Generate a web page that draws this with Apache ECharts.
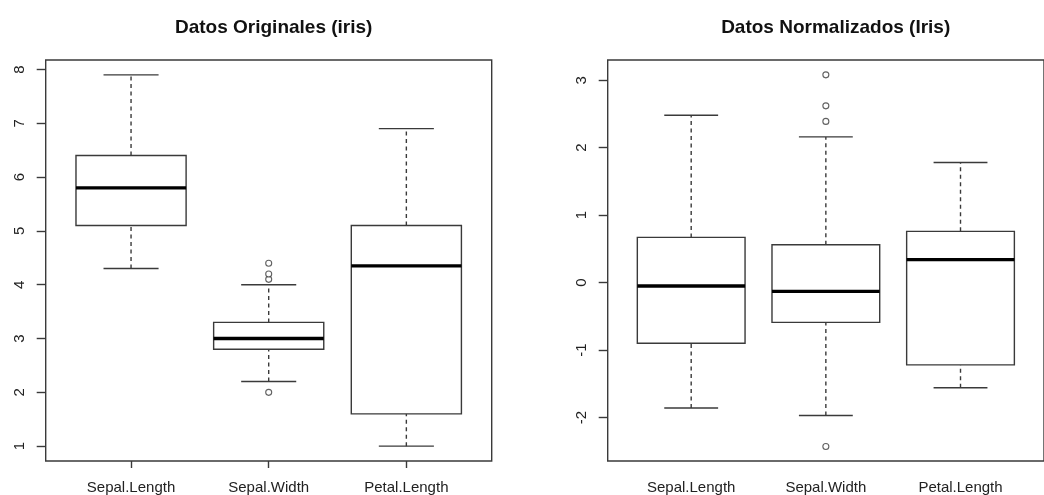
<!DOCTYPE html>
<html>
<head>
<meta charset="utf-8">
<script src="https://cdn.jsdelivr.net/npm/echarts@6/dist/echarts.min.js"></script>
<style>
  html, body { margin: 0; padding: 0; background: #fff; }
  #chart { width: 1044px; height: 495px; }
</style>
</head>
<body>
<div id="chart"></div>
<script>
// ---- data ----
const categories = ['Sepal.Length', 'Sepal.Width', 'Petal.Length'];
// [lower whisker, Q1, median, Q3, upper whisker]
const originalStats = [
  [4.3, 5.1, 5.8, 6.4, 7.9],
  [2.2, 2.8, 3.0, 3.3, 4.0],
  [1.0, 1.6, 4.35, 5.1, 6.9]
];
const originalOutliers = [[2, 4.4], [2, 4.1], [2, 4.2], [2, 2.0]];
const normalizedStats = [
  [-1.86, -0.90, -0.05, 0.67, 2.48],
  [-1.97, -0.59, -0.13, 0.56, 2.16],
  [-1.56, -1.22, 0.34, 0.76, 1.78]
];
const normalizedOutliers = [[2, 3.08], [2, 2.62], [2, 2.39], [2, -2.43]];
const originalTicks = [1, 2, 3, 4, 5, 6, 7, 8];
const normalizedTicks = [-2, -1, 0, 1, 2, 3];
const categoryTicks = [1, 2, 3];
const titles = ['Datos Originales (iris)', 'Datos Normalizados (Iris)'];

// ---- chart ----
const FONT = "'Liberation Sans', Arial, sans-serif";
const LINE = '#3a3a3a';
const BOX_HALF = 0.4, CAP_HALF = 0.2;

function renderBox(params, api) {
  const x = api.value(0);
  const lo = api.value(1), q1 = api.value(2), med = api.value(3), q3 = api.value(4), hi = api.value(5);
  const c = (a, b) => api.coord([a, b]);
  const solid = { stroke: LINE, lineWidth: 1.4, fill: null };
  const dashed = { stroke: LINE, lineWidth: 1.4, lineDash: [4, 3.5], fill: null };
  const line = (p1, p2, style) => ({
    type: 'line',
    shape: { x1: p1[0], y1: p1[1], x2: p2[0], y2: p2[1] },
    style: style
  });
  const tl = c(x - BOX_HALF, q3), br = c(x + BOX_HALF, q1);
  return {
    type: 'group',
    children: [
      line(c(x, lo), c(x, q1), dashed),
      line(c(x, q3), c(x, hi), dashed),
      line(c(x - CAP_HALF, lo), c(x + CAP_HALF, lo), solid),
      line(c(x - CAP_HALF, hi), c(x + CAP_HALF, hi), solid),
      {
        type: 'rect',
        shape: { x: tl[0], y: tl[1], width: br[0] - tl[0], height: br[1] - tl[1] },
        style: { fill: '#fff', stroke: LINE, lineWidth: 1.4 }
      },
      line(c(x - BOX_HALF, med), c(x + BOX_HALF, med), { stroke: '#000', lineWidth: 3.4 })
    ]
  };
}

function boxData(stats) {
  return stats.map((s, i) => [i + 1].concat(s));
}

const grids = [
  { left: 45.7, top: 60, width: 446, height: 401 },
  { left: 607.7, top: 60, width: 446, height: 401 }
];

function xAxisDef(idx) {
  return {
    type: 'value', gridIndex: idx, min: 0.38, max: 3.62,
    axisLine: { show: false },
    splitLine: { show: false },
    axisTick: { show: true, customValues: categoryTicks, length: 7, lineStyle: { color: LINE, width: 1.4 } },
    axisLabel: {
      customValues: categoryTicks, margin: 19,
      formatter: v => categories[Math.round(v) - 1] || '',
      fontFamily: FONT, fontSize: 15, color: '#222'
    }
  };
}
function yAxisDef(idx, min, max, ticks) {
  return {
    type: 'value', gridIndex: idx, min: min, max: max,
    axisLine: { show: false },
    splitLine: { show: false },
    axisTick: { show: true, customValues: ticks, length: 9, lineStyle: { color: LINE, width: 1.4 } },
    axisLabel: {
      customValues: ticks, rotate: 90, margin: 18,
      fontFamily: FONT, fontSize: 15, color: '#222'
    }
  };
}

const chart = echarts.init(document.getElementById('chart'), null, { renderer: 'canvas' });
chart.setOption({
  backgroundColor: '#fff',
  animation: false,
  title: [
    { text: titles[0], left: 268.7, top: 13, textAlign: 'center',
      textStyle: { fontFamily: FONT, fontSize: 19, fontWeight: 'bold', color: '#111' } },
    { text: titles[1], left: 830.7, top: 13, textAlign: 'center',
      textStyle: { fontFamily: FONT, fontSize: 19, fontWeight: 'bold', color: '#111' } }
  ],
  grid: grids.map(g => Object.assign({ show: true, borderColor: LINE, borderWidth: 1.4, backgroundColor: 'transparent' }, g)),
  xAxis: [xAxisDef(0), xAxisDef(1)],
  yAxis: [
    yAxisDef(0, 0.724, 8.176, originalTicks),
    yAxisDef(1, -2.645, 3.300, normalizedTicks)
  ],
  series: [
    { type: 'custom', xAxisIndex: 0, yAxisIndex: 0, renderItem: renderBox,
      encode: { x: 0, y: [1, 2, 3, 4, 5] }, data: boxData(originalStats) },
    { type: 'scatter', xAxisIndex: 0, yAxisIndex: 0, data: originalOutliers,
      symbol: 'circle', symbolSize: 6,
      itemStyle: { color: '#fff', borderColor: LINE, borderWidth: 1.1 } },
    { type: 'custom', xAxisIndex: 1, yAxisIndex: 1, renderItem: renderBox,
      encode: { x: 0, y: [1, 2, 3, 4, 5] }, data: boxData(normalizedStats) },
    { type: 'scatter', xAxisIndex: 1, yAxisIndex: 1, data: normalizedOutliers,
      symbol: 'circle', symbolSize: 6,
      itemStyle: { color: '#fff', borderColor: LINE, borderWidth: 1.1 } }
  ]
});
</script>
</body>
</html>
